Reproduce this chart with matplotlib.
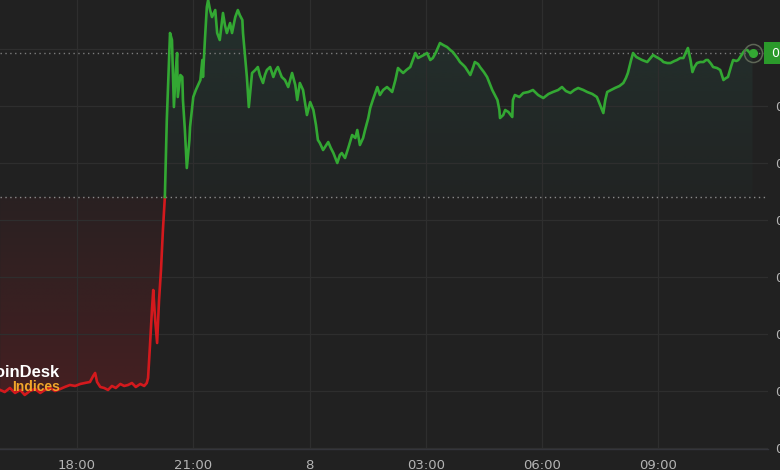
import numpy as np
import matplotlib
matplotlib.use("Agg")
import matplotlib.pyplot as plt
import matplotlib.colors as mcolors
from matplotlib.patches import Polygon

# minutes after 16:00 (day 7) and index price
minutes = [
    1, 8, 16, 24, 32, 39, 47, 55, 63, 70, 78, 86, 94, 101, 109, 117, 125, 132,
    140, 145, 148, 151, 156, 162, 168, 174, 180, 187, 193, 199, 205, 211, 218,
    224, 228, 230, 233, 236, 238, 241, 244, 247, 250, 253, 256,
    259, 263, 264, 267, 270, 273, 275, 276, 280, 283, 284, 287, 290, 294, 295,
    300, 304, 311, 314, 315, 318, 321, 323, 326, 329, 334, 337, 341, 346, 349,
    352, 357, 360, 365, 369, 372, 376, 377, 380, 383, 386, 391, 396, 400, 403,
    408, 411, 414, 419, 424, 428, 431, 437, 442, 447, 453, 458, 461, 465, 470,
    476, 481, 486, 490, 493, 496, 501, 506, 509, 513, 517, 520, 523, 527, 530,
    535, 540, 546, 551, 554, 558, 563, 566, 571, 574, 578, 585, 589, 594, 600,
    605, 608, 613, 617, 620, 625, 630, 636, 640, 644, 648, 651, 657, 662, 667,
    671, 676, 682, 687, 693, 698, 702, 709, 713, 718, 721, 726, 729, 733, 736,
    741, 744, 750, 755, 760, 763, 767, 771, 774, 775, 780, 783, 788, 794, 795,
    798, 805, 811, 819, 826, 834, 842, 850, 857, 865, 871, 877, 884, 890, 896,
    904, 910, 918, 925, 930, 935, 938, 941, 947, 953, 960, 966, 970, 973, 978,
    981, 986, 989, 995, 1003, 1008, 1012, 1017, 1020, 1025, 1028, 1034, 1039,
    1045, 1049, 1054, 1059, 1063, 1066, 1070, 1073, 1076, 1080, 1085, 1090,
    1094, 1097, 1102, 1105, 1111, 1116, 1119, 1121, 1125, 1128, 1133, 1136,
    1141, 1144, 1149, 1152, 1155, 1158, 1162, 1166,
]
prices = [
    0.061018, 0.060982, 0.061053, 0.060965, 0.061018, 0.060930, 0.061000,
    0.061035, 0.060965, 0.061018, 0.061053, 0.061000, 0.061035, 0.061070,
    0.061105, 0.061088, 0.061123, 0.061140, 0.061158, 0.061263, 0.061316,
    0.061158, 0.061070, 0.061053, 0.061018, 0.061088, 0.061053, 0.061123,
    0.061088, 0.061105, 0.061140, 0.061070, 0.061123, 0.061088, 0.061140,
    0.061228, 0.061807, 0.062421, 0.062772, 0.062246, 0.061842, 0.062596,
    0.063123, 0.063825, 0.064404,
    0.065754, 0.066982, 0.067281, 0.067158, 0.065982, 0.066632, 0.066930,
    0.066158, 0.066544, 0.066509, 0.066105, 0.065579, 0.064912, 0.065404,
    0.065632, 0.066158, 0.066281, 0.066456, 0.066807, 0.066509, 0.067158,
    0.067737, 0.067860, 0.067684, 0.067561, 0.067684, 0.067281, 0.067158,
    0.067632, 0.067421, 0.067281, 0.067456, 0.067281, 0.067561, 0.067684,
    0.067596, 0.067509, 0.067281, 0.066895, 0.066509, 0.065982, 0.066579,
    0.066632, 0.066684, 0.066544, 0.066404, 0.066544, 0.066632, 0.066684,
    0.066509, 0.066632, 0.066684, 0.066509, 0.066456, 0.066333, 0.066579,
    0.066368, 0.066105, 0.066404, 0.066281, 0.065842, 0.066070, 0.065930,
    0.065667, 0.065404, 0.065351, 0.065228, 0.065316, 0.065368, 0.065263,
    0.065175, 0.065088, 0.065000, 0.065140, 0.065175, 0.065088, 0.065263,
    0.065491, 0.065439, 0.065579, 0.065316, 0.065439, 0.065579, 0.065789,
    0.065965, 0.066105, 0.066333, 0.066193, 0.066281, 0.066333, 0.066281,
    0.066246, 0.066456, 0.066667, 0.066632, 0.066579, 0.066632, 0.066684,
    0.066807, 0.066930, 0.066842, 0.066860, 0.066895, 0.066930, 0.066807,
    0.066842, 0.066947, 0.067105, 0.067070, 0.067035, 0.066982, 0.066947,
    0.066842, 0.066772, 0.066719, 0.066684, 0.066596, 0.066544, 0.066667,
    0.066772, 0.066737, 0.066684, 0.066596, 0.066509, 0.066368, 0.066281,
    0.066193, 0.066105, 0.065930, 0.065789, 0.065842, 0.065930, 0.065895,
    0.065807, 0.066105, 0.066193, 0.066158, 0.066228, 0.066246, 0.066281,
    0.066193, 0.066140, 0.066211, 0.066246, 0.066281, 0.066333, 0.066263,
    0.066228, 0.066281, 0.066316, 0.066281, 0.066246, 0.066211, 0.066158,
    0.066018, 0.065877, 0.066105, 0.066246, 0.066281, 0.066316, 0.066351,
    0.066404, 0.066491, 0.066579, 0.066807, 0.066930, 0.066860, 0.066842,
    0.066807, 0.066772, 0.066842, 0.066895, 0.066860, 0.066842, 0.066807,
    0.066772, 0.066754, 0.066754, 0.066789, 0.066807, 0.066842, 0.066842,
    0.066947, 0.067018, 0.066807, 0.066596, 0.066684, 0.066754, 0.066772,
    0.066772, 0.066807, 0.066807, 0.066737, 0.066684, 0.066667, 0.066632,
    0.066526, 0.066456, 0.066491, 0.066509, 0.066702, 0.066807, 0.066789,
    0.066807, 0.066895, 0.066947, 0.066982, 0.066982, 0.066930, 0.066930,
]
prev_close = 0.064404
grid_prices = [0.060, 0.061, 0.062, 0.063, 0.064, 0.065, 0.066, 0.067]
tick_hours = [18, 21, 24, 27, 30, 33]
tick_labels = ["18:00", "21:00", "8", "03:00", "06:00", "09:00"]

BG = "#212121"
GREEN = "#33a833"
RED = "#d3191d"


def gradient_fill(ax, x, y, base, color, a_base, a_far):
    verts = [(x[0], base)] + list(zip(x, y)) + [(x[-1], base)]
    poly = Polygon(verts, closed=True, facecolor="none", edgecolor="none")
    ax.add_patch(poly)
    far = max(y) if max(y) > base else min(y)
    img = np.zeros((256, 1, 4))
    img[:, 0, :3] = mcolors.to_rgb(color)
    alphas = np.linspace(a_base, a_far, 256)
    if far < base:
        alphas = alphas[::-1]
    img[:, 0, 3] = alphas
    lo, hi = min(base, far), max(base, far)
    im = ax.imshow(img, aspect="auto", origin="lower", zorder=1,
                   extent=[x[0], x[-1], lo, hi], interpolation="bilinear")
    im.set_clip_path(poly)


t = np.array(minutes, dtype=float)
p = np.array(prices)
split = int(np.argmax(p >= prev_close))

fig = plt.figure(figsize=(7.8, 4.7), dpi=100, facecolor=BG)
ax = fig.add_axes([0, 21 / 470, 768 / 780, 449 / 470])
ax.set_facecolor(BG)

gradient_fill(ax, t[:split + 1], p[:split + 1], prev_close, "#9a1c22", 0.07, 0.3)
gradient_fill(ax, t[split:], p[split:], prev_close, "#2f6b5c", 0.04, 0.22)

ax.plot(t[:split + 1], p[:split + 1], color=RED, lw=1.9, zorder=4)
ax.plot(t[split:], p[split:], color=GREEN, lw=1.9, zorder=4)

ax.axhline(prev_close, color="#8a8a8a", lw=1, ls=(0, (1, 2.5)), zorder=3)
ax.axhline(p[-1], color="#7c7c7c", lw=1, ls=(0, (1, 2.5)), zorder=3)

ax.plot(t[-1], p[-1], "o", ms=13, mfc="none", mec="#5e6656", mew=1.1, zorder=5)
ax.plot(t[-1], p[-1], "o", ms=5.5, color=GREEN, zorder=6)

ax.set_xlim(0.7, 1190)
ax.set_ylim(0.059982, 0.06786)

ax.set_xticks([(h - 16) * 60 for h in tick_hours])
ax.set_xticklabels(tick_labels)
ax.set_yticks(grid_prices)
ax.set_yticklabels([f"{v:.4f}" for v in grid_prices[:-1]] + [""])
ax.yaxis.tick_right()
ax.tick_params(axis="x", length=0, pad=7, labelsize=9.5, labelcolor="#b4b4b4")
ax.tick_params(axis="y", length=0, pad=5, labelsize=9, labelcolor="#b4b4b4")
ax.grid(True, color="#2e2e2e", lw=0.9, zorder=0)

for side in ["top", "left", "right"]:
    ax.spines[side].set_visible(False)
ax.spines["bottom"].set_color("#34353b")
ax.spines["bottom"].set_linewidth(1)

ax.text(1.0, p[-1], " 0.06693", transform=ax.get_yaxis_transform(),
        ha="left", va="center", color="white", fontsize=9, clip_on=False,
        bbox=dict(boxstyle="square,pad=0.35", fc="#2b9a2b", ec="none"), zorder=7)

fig.text(60 / 780, 1 - 377 / 470, "CoinDesk", ha="right", va="baseline",
         color="white", fontsize=12, fontweight="bold", family="Liberation Sans")
fig.text(60 / 780, 1 - 391 / 470, "Indices", ha="right", va="baseline",
         color="#f2a62a", fontsize=10, fontweight="bold", family="Liberation Sans")

fig.savefig("out.png", dpi=100, facecolor=BG)
